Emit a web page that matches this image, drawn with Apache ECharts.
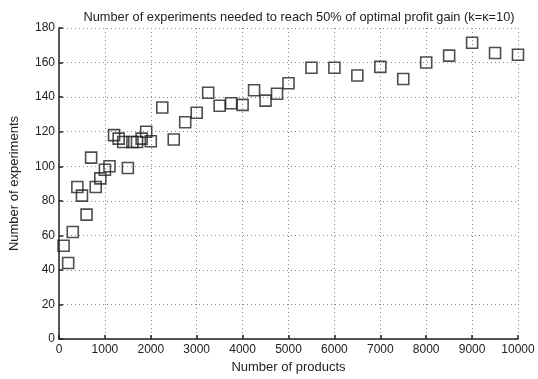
<!DOCTYPE html>
<html><head><meta charset="utf-8">
<script src="https://cdn.jsdelivr.net/npm/echarts@6/dist/echarts.min.js"></script>
<style>html,body{margin:0;padding:0;background:#fff}#c{width:538px;height:379px}</style>
</head><body><div id="c"></div>
<script>
const products = [100,200,300,400,500,600,700,800,900,1000,1100,1200,1300,1400,1500,1600,1700,1800,1900,2000,
  2250,2500,2750,3000,3250,3500,3750,4000,4250,4500,4750,5000,
  5500,6000,6500,7000,7500,8000,8500,9000,9500,10000];
const experiments = [54,44,62,88,83,72,105,88,93,98,100,118,116,114,99,114,114,116,120,114.5,
  134,115.5,125.5,131,142.5,135,136.5,135.5,144,138,142,148,
  157,157,152.5,157.5,150.5,160,164,171.5,165.5,164.5];
const xTicks = {min:0, max:10000, step:1000};
const yTicks = {min:0, max:180, step:20};
const titleText = 'Number of experiments needed to reach 50% of optimal profit gain (k=\u03ba=10)';

const FONT = 'Liberation Sans';
const chart = echarts.init(document.getElementById('c'), null, {renderer:'canvas'});
const gridLine = {show:true, lineStyle:{color:'#888', type:[1,3], width:1}};
chart.setOption({
  animation:false,
  backgroundColor:'#fff',
  title:{text:titleText, left:294, top:6, textAlign:'center',
    textStyle:{fontFamily:FONT, fontSize:12.8, fontWeight:'normal', color:'#222'}},
  grid:{left:56, right:20, top:28, bottom:36, containLabel:false},
  xAxis:{type:'value', min:xTicks.min, max:xTicks.max, interval:xTicks.step,
    name:'Number of products', nameLocation:'middle', nameGap:21,
    nameTextStyle:{fontFamily:FONT, fontSize:13, color:'#222'},
    axisLine:{show:true, onZero:false, lineStyle:{color:'#222', width:1.5}},
    axisTick:{show:true, inside:true, length:4, lineStyle:{color:'#222', width:1.5}},
    axisLabel:{fontFamily:FONT, fontSize:12, color:'#222', margin:5, formatter:v=>String(v)},
    splitLine:gridLine},
  yAxis:{type:'value', min:yTicks.min, max:yTicks.max, interval:yTicks.step,
    name:'Number of experiments', nameLocation:'middle', nameGap:38, nameRotate:90,
    nameTextStyle:{fontFamily:FONT, fontSize:13, color:'#222'},
    axisLine:{show:true, onZero:false, lineStyle:{color:'#222', width:1.5}},
    axisTick:{show:true, inside:true, length:4, lineStyle:{color:'#222', width:1.5}},
    axisLabel:{fontFamily:FONT, fontSize:12, color:'#222', margin:4},
    splitLine:gridLine},
  series:[{type:'scatter', data:products.map((p,i)=>[p, experiments[i]]),
    symbol:'rect', symbolSize:11,
    itemStyle:{color:'rgba(0,0,0,0)', borderColor:'#222', borderWidth:1.6}}]
});
</script></body></html>
